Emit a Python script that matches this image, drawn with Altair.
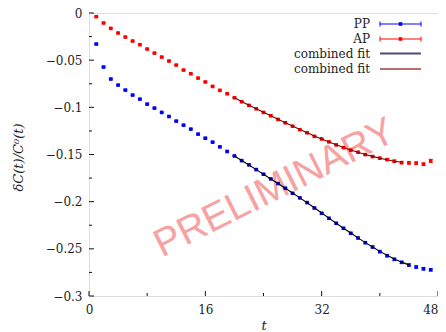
import altair as alt
import pandas as pd

# ---------------- data ----------------
t = list(range(1, 48))
pp = [-0.0329, -0.0573, -0.0700, -0.0764, -0.0817, -0.0870, -0.0913, -0.0966, -0.1008, -0.1054,
      -0.1097, -0.1146, -0.1189, -0.1231, -0.1284, -0.1327, -0.1369, -0.1419, -0.1468, -0.1515,
      -0.1565, -0.1610, -0.1660, -0.1709, -0.1759, -0.1808, -0.1857, -0.1911, -0.1960, -0.2010,
      -0.2067, -0.2123, -0.2176, -0.2229, -0.2282, -0.2335, -0.2385, -0.2435, -0.2481, -0.2530,
      -0.2573, -0.2611, -0.2643, -0.2672, -0.2693, -0.2711, -0.2722]
ap = [-0.0039, -0.0106, -0.0163, -0.0212, -0.0255, -0.0297, -0.0336, -0.0382, -0.0425, -0.0467,
      -0.0509, -0.0552, -0.0605, -0.0644, -0.0690, -0.0731, -0.0778, -0.0820, -0.0856, -0.0898,
      -0.0941, -0.0979, -0.1015, -0.1054, -0.1090, -0.1128, -0.1164, -0.1200, -0.1237, -0.1270,
      -0.1308, -0.1335, -0.1366, -0.1398, -0.1427, -0.1454, -0.1476, -0.1501, -0.1522, -0.1539,
      -0.1554, -0.1571, -0.1586, -0.1589, -0.1592, -0.1603, -0.1568]
pp_err = [0.0003, 0.0003, 0.0003, 0.0003, 0.0003, 0.0003, 0.0003, 0.0003, 0.0003, 0.0004,
          0.0004, 0.0004, 0.0004, 0.0004, 0.0004, 0.0005, 0.0005, 0.0005, 0.0005, 0.0005,
          0.0005, 0.0006, 0.0006, 0.0006, 0.0006, 0.0006, 0.0007, 0.0007, 0.0007, 0.0007,
          0.0008, 0.0008, 0.0008, 0.0008, 0.0009, 0.0009, 0.0009, 0.0010, 0.0010, 0.0010,
          0.0011, 0.0011, 0.0011, 0.0012, 0.0012, 0.0013, 0.0013]
ap_err = [0.0003, 0.0003, 0.0003, 0.0003, 0.0003, 0.0003, 0.0003, 0.0003, 0.0003, 0.0004,
          0.0004, 0.0004, 0.0004, 0.0004, 0.0004, 0.0005, 0.0005, 0.0005, 0.0005, 0.0005,
          0.0005, 0.0006, 0.0006, 0.0006, 0.0006, 0.0006, 0.0007, 0.0007, 0.0007, 0.0007,
          0.0008, 0.0008, 0.0008, 0.0008, 0.0009, 0.0009, 0.0009, 0.0010, 0.0010, 0.0010,
          0.0011, 0.0011, 0.0012, 0.0012, 0.0013, 0.0014, 0.0017]
fit_pp_t = list(range(20, 45))
fit_pp = [-0.1515, -0.1563, -0.1611, -0.1660, -0.1709, -0.1759, -0.1808, -0.1858, -0.1909, -0.1960,
          -0.2011, -0.2064, -0.2120, -0.2174, -0.2228, -0.2281, -0.2333, -0.2384, -0.2434, -0.2481,
          -0.2527, -0.2569, -0.2607, -0.2641, -0.2670]
fit_ap_t = list(range(20, 44))
fit_ap = [-0.0898, -0.0939, -0.0978, -0.1016, -0.1053, -0.1090, -0.1127, -0.1163, -0.1199, -0.1235,
          -0.1269, -0.1304, -0.1336, -0.1367, -0.1397, -0.1425, -0.1452, -0.1476, -0.1499, -0.1520,
          -0.1539, -0.1556, -0.1571, -0.1583]

y_major = [0, -0.05, -0.1, -0.15, -0.2, -0.25, -0.3]
y_minor = [-0.025, -0.075, -0.125, -0.175, -0.225, -0.275]
x_major = [0, 16, 32, 48]
x_minor = [8, 24, 40]
legend_labels = ["PP", "AP", "combined fit", "combined fit"]
watermark_text = "PRELIMINARY"
watermark_t = [25.5]
watermark_v = [-0.1855]

# ---------------- styling ----------------
W, H = 349, 283
FONT = "DejaVu Serif"
BLUE, RED = "#0000ff", "#ff0000"
FIT_PP, FIT_AP = "#000000", "#7a0000"
LEG_FIT_PP, LEG_FIT_AP = "#4b4b80", "#bb6b6b"

xs = alt.Scale(domain=[0, 48], nice=False, zero=False)
ys = alt.Scale(domain=[-0.3, 0], nice=False, zero=False)

def points_df(vals, errs):
    return pd.DataFrame({"t": t, "v": vals,
                         "lo": [v - e for v, e in zip(vals, errs)],
                         "hi": [v + e for v, e in zip(vals, errs)]})

pp_df = points_df(pp, pp_err)
ap_df = points_df(ap, ap_err)

X = alt.X("t:Q", scale=xs,
          axis=alt.Axis(values=x_major, title="t", grid=False, domain=False, ticks=False, tickSize=0,
                        labelFont=FONT, labelFontSize=12, labelColor="#222", labelPadding=8,
                        labelAlign={"expr": "datum.value == 48 ? 'right' : 'center'"},
                        titleFont=FONT, titleFontSize=13, titleFontStyle="italic", titleFontWeight="normal",
                        titleColor="#222", titleX=W / 2, titleY=33, titleBaseline="alphabetic"))
Y = alt.Y("v:Q", scale=ys,
          axis=alt.Axis(values=y_major, format="~g", title="δC(t)/C⁰(t)", grid=False, domain=False,
                        ticks=False, tickSize=0, labelFont=FONT, labelFontSize=12, labelColor="#222",
                        labelPadding=7, titleFont=FONT, titleFontSize=13, titleFontWeight="normal",
                        titleFontStyle="italic", titleColor="#222", titleX=-71, titleY=144,
                        titleBaseline="middle"))

# watermark (beneath data)
wm = alt.Chart(pd.DataFrame({"t": watermark_t, "v": watermark_v, "s": [watermark_text]})).mark_text(
    angle=333.4, fontSize=39, font="Liberation Sans", color="#f6a2a2", align="center", baseline="middle"
).encode(x=alt.X("t:Q", scale=xs), y=alt.Y("v:Q", scale=ys), text="s:N")

def series(df, color):
    bars = alt.Chart(df).mark_rule(color=color, strokeWidth=1).encode(
        x=alt.X("t:Q", scale=xs), y=alt.Y("lo:Q", scale=ys), y2="hi:Q")
    cap_lo = alt.Chart(df).mark_tick(color=color, orient="horizontal", size=4, thickness=1).encode(
        x=alt.X("t:Q", scale=xs), y=alt.Y("lo:Q", scale=ys))
    cap_hi = alt.Chart(df).mark_tick(color=color, orient="horizontal", size=4, thickness=1).encode(
        x=alt.X("t:Q", scale=xs), y=alt.Y("hi:Q", scale=ys))
    pts = alt.Chart(df).mark_square(color=color, size=13, opacity=1).encode(
        x=alt.X("t:Q", scale=xs), y=alt.Y("v:Q", scale=ys))
    return [bars, cap_lo, cap_hi, pts]

base = alt.Chart(pp_df).mark_point(opacity=0).encode(x=X, y=Y)

fit1 = alt.Chart(pd.DataFrame({"t": fit_pp_t, "v": fit_pp})).mark_line(color=FIT_PP, strokeWidth=1.1).encode(
    x=alt.X("t:Q", scale=xs), y=alt.Y("v:Q", scale=ys))
fit2 = alt.Chart(pd.DataFrame({"t": fit_ap_t, "v": fit_ap})).mark_line(color=FIT_AP, strokeWidth=1.1).encode(
    x=alt.X("t:Q", scale=xs), y=alt.Y("v:Q", scale=ys))

# inward ticks
tick_layers = [
    alt.Chart(pd.DataFrame({"v": y_major})).mark_rule(color="#111", strokeWidth=1).encode(
        y=alt.Y("v:Q", scale=ys), x=alt.value(0), x2=alt.value(5)),
    alt.Chart(pd.DataFrame({"v": y_minor})).mark_rule(color="#111", strokeWidth=1).encode(
        y=alt.Y("v:Q", scale=ys), x=alt.value(0), x2=alt.value(3)),
    alt.Chart(pd.DataFrame({"t": x_major})).mark_rule(color="#111", strokeWidth=1).encode(
        x=alt.X("t:Q", scale=xs), y=alt.value(H), y2=alt.value(H - 5)),
    alt.Chart(pd.DataFrame({"t": x_minor})).mark_rule(color="#111", strokeWidth=1).encode(
        x=alt.X("t:Q", scale=xs), y=alt.value(H), y2=alt.value(H - 3)),
]

# manual legend (labels left of symbols)
one = pd.DataFrame({"a": [0]})
leg_rows = [11, 26, 40.5, 56]
leg_x0, leg_x1, leg_mid, leg_text_x = 291, 332, 311.5, 281
legend_layers = []
for lab, yy in zip(legend_labels, leg_rows):
    legend_layers.append(alt.Chart(one).mark_text(align="right", baseline="middle", font=FONT,
                                                  fontSize=12, color="#222").encode(
        x=alt.value(leg_text_x), y=alt.value(yy), text=alt.value(lab)))
for col, yy in [(BLUE, leg_rows[0]), (RED, leg_rows[1])]:
    legend_layers.append(alt.Chart(one).mark_rule(color=col, strokeWidth=1).encode(
        x=alt.value(leg_x0), x2=alt.value(leg_x1), y=alt.value(yy)))
    for xx in (leg_x0, leg_x1):
        legend_layers.append(alt.Chart(one).mark_rule(color=col, strokeWidth=1).encode(
            x=alt.value(xx), y=alt.value(yy - 2.5), y2=alt.value(yy + 2.5)))
    legend_layers.append(alt.Chart(one).mark_square(color=col, size=13, opacity=1).encode(
        x=alt.value(leg_mid), y=alt.value(yy)))
for col, yy in [(LEG_FIT_PP, leg_rows[2]), (LEG_FIT_AP, leg_rows[3])]:
    legend_layers.append(alt.Chart(one).mark_rule(color=col, strokeWidth=1.8).encode(
        x=alt.value(leg_x0), x2=alt.value(leg_x1), y=alt.value(yy)))

chart = alt.layer(
    base, wm, *series(pp_df, BLUE), *series(ap_df, RED), fit1, fit2, *tick_layers, *legend_layers
).properties(
    width=W, height=H,
    autosize=alt.AutoSizeParams(type="none"),
    padding={"left": 81, "top": 5, "right": 0, "bottom": 35},
).configure_view(stroke="#111", strokeWidth=1.5).configure(background="white")

chart.save("out.html", embed_options={"renderer": "svg", "actions": False})
